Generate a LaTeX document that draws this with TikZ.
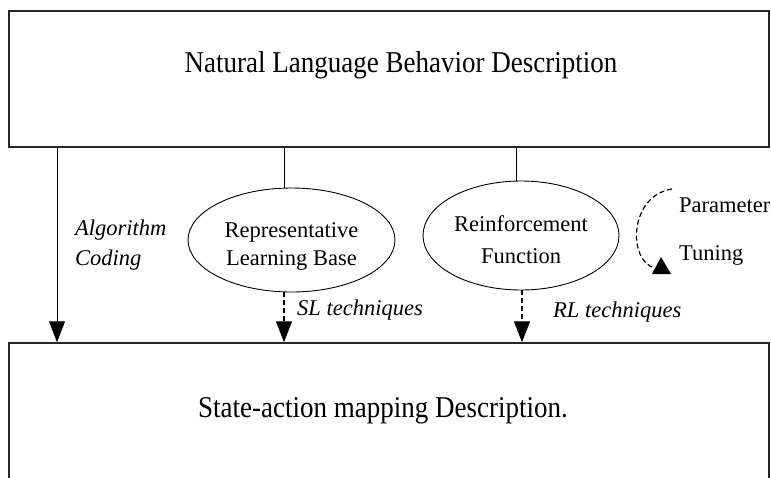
\documentclass[tikz,border=0pt]{standalone}
\usepackage{fontspec}
\setmainfont{Liberation Serif}
\usetikzlibrary{shapes.geometric,arrows.meta}
\newcommand{\tallbig}[1]{\scalebox{1}[1.12]{#1}}
\begin{document}
\begin{tikzpicture}[x=1pt,y=-1pt,
  box/.style={draw=black!85,line width=1.5pt,inner sep=0pt},
  oval/.style={draw,ellipse,line width=0.9pt,inner sep=0pt},
  big/.style={font=\fontsize{27}{32}\selectfont,inner sep=0pt},
  small/.style={font=\fontsize{22.5}{28}\selectfont,inner sep=0pt},
  ital/.style={font=\fontsize{22.5}{28}\selectfont\itshape,inner sep=0pt},
  conn/.style={line width=1pt},
  arr/.style={conn,-{Triangle[length=21pt,width=16pt]}},
  darr/.style={arr,line width=1.2pt,dash pattern=on 5pt off 3pt}]
\useasboundingbox (0,0) rectangle (771,477);
\clip (0,0) rectangle (771,477);
\fill[white] (0,0) rectangle (771,477);
% boxes
\node[box,minimum width=760pt,minimum height=136pt] (top) at (389,79) {};
\node[big,anchor=base] (toptxt) at (401,72) {\tallbig{Natural Language Behavior Description}};
\node[box,minimum width=760pt,minimum height=160pt] (bot) at (389,423) {};
\node[big,anchor=base] (bottxt) at (383,417) {\tallbig{State-action mapping Description.}};
% ellipses
\node[oval,minimum width=207pt,minimum height=104pt] (e1) at (291.5,240) {};
\node[small,align=center] (e1t) at (291.5,246) {Representative\\Learning Base};
\node[oval,minimum width=196pt,minimum height=109pt] (e2) at (521,235.5) {};
\node[small,align=center,font=\fontsize{22.5}{32}\selectfont] (e2t) at (521,239.5) {Reinforcement\\Function};
% labels
\node[ital,anchor=base west] (alg) at (75,235) {Algorithm};
\node[ital,anchor=base west] (cod) at (75,265) {Coding};
\node[ital,anchor=base west] (sl) at (297,315) {SL techniques};
\node[ital,anchor=base west] (rl) at (553,317) {RL techniques};
\node[small,anchor=base west] (par) at (679,212) {Parameter};
\node[small,anchor=base west] (tun) at (679,260) {Tuning};
% connectors
\coordinate (c0) at (57,0);
\coordinate (c1) at (284,0);
\coordinate (c2) at (516,0);
\coordinate (c3) at (522,0);
\draw[arr] (top.south -| c0) -- (bot.north -| c0);
\draw[conn] (top.south -| c1) -- (e1.north -| c1);
\draw[darr] (e1.south -| c1) -- (bot.north -| c1);
\draw[conn] (top.south -| c2) -- (e2.north -| c2);
\draw[darr] (e2.south -| c3) -- (bot.north -| c3);
% parameter tuning loop
\coordinate (arcA) at (672,189);
\coordinate (arcB) at (655,268);
\coordinate (tipA) at (652,274);
\coordinate (tipB) at (671,274);
\coordinate (tipC) at (661,257);
\draw[line width=1.2pt,dash pattern=on 5pt off 3pt] (arcA) .. controls (628,196) and (628,262) .. (arcB);
\fill (tipA) -- (tipB) -- (tipC) -- cycle;
\end{tikzpicture}
\end{document}
